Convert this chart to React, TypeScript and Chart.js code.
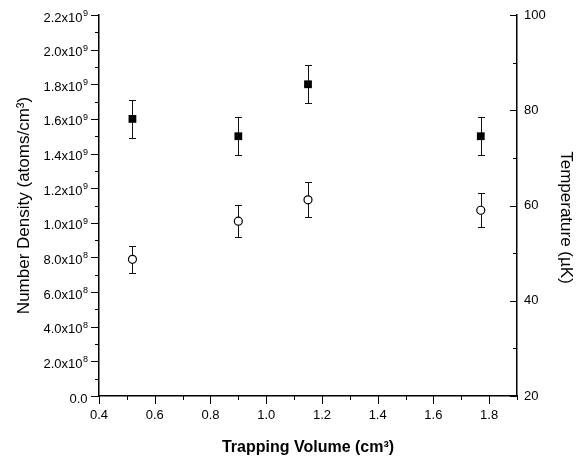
import React, { useEffect, useRef } from "react";
import { Chart, registerables } from "chart.js";

Chart.register(...registerables);

// ---- data ----
const volumes = [0.52, 0.9, 1.15, 1.77];
const density = [1.6e9, 1.5e9, 1.8e9, 1.5e9];
const densityErr = [0.11e9, 0.11e9, 0.11e9, 0.11e9];
const temperature = [48.7, 56.7, 61.2, 59.0];
const temperatureErr = [2.9, 3.4, 3.7, 3.6];

const xMajorTicks = [0.4, 0.6, 0.8, 1.0, 1.2, 1.4, 1.6, 1.8];
const xMinorTicks = [0.5, 0.7, 0.9, 1.1, 1.3, 1.5, 1.7, 1.9];
const densityMajorTicks = [0, 0.2e9, 0.4e9, 0.6e9, 0.8e9, 1.0e9, 1.2e9, 1.4e9, 1.6e9, 1.8e9, 2.0e9, 2.2e9];
const densityTickMantissa = ["0.0", "2.0x10", "4.0x10", "6.0x10", "8.0x10", "1.0x10", "1.2x10", "1.4x10", "1.6x10", "1.8x10", "2.0x10", "2.2x10"];
const densityTickExp = ["", "8", "8", "8", "8", "9", "9", "9", "9", "9", "9", "9"];
const densityMinorTicks = [0.1e9, 0.3e9, 0.5e9, 0.7e9, 0.9e9, 1.1e9, 1.3e9, 1.5e9, 1.7e9, 1.9e9, 2.1e9];
const tempMajorTicks = [20, 40, 60, 80, 100];
const tempMinorTicks = [30, 50, 70, 90];

const xTitle = "Trapping Volume (cm\u00B3)";
const yTitle = "Number Density (atoms/cm\u00B3)";
const y1Title = "Temperature (\u00B5K)";

const FONT = "'Liberation Sans', Arial, Helvetica, sans-serif";

const decorPlugin = {
  id: "decor",
  beforeDatasetsDraw(chart: any) {
    const ctx = chart.ctx;
    const xs = chart.scales.x;
    const ys = chart.scales.y;
    const y1s = chart.scales.y1;
    ctx.save();
    ctx.strokeStyle = "#111";
    ctx.lineWidth = 1;
    const drawBar = (xv: number, v: number, e: number, sc: any) => {
      const px = Math.round(xs.getPixelForValue(xv)) + 0.5;
      const top = Math.round(sc.getPixelForValue(v + e)) + 0.5;
      const bot = Math.round(sc.getPixelForValue(v - e)) + 0.5;
      ctx.beginPath();
      ctx.moveTo(px, top);
      ctx.lineTo(px, bot);
      ctx.moveTo(px - 3.5, top);
      ctx.lineTo(px + 3.5, top);
      ctx.moveTo(px - 3.5, bot);
      ctx.lineTo(px + 3.5, bot);
      ctx.stroke();
    };
    volumes.forEach((xv, i) => drawBar(xv, density[i], densityErr[i], ys));
    volumes.forEach((xv, i) => drawBar(xv, temperature[i], temperatureErr[i], y1s));
    ctx.restore();
  },
  afterDraw(chart: any) {
    const ctx = chart.ctx;
    const xs = chart.scales.x;
    const ys = chart.scales.y;
    const y1s = chart.scales.y1;
    const area = chart.chartArea;
    ctx.save();
    ctx.strokeStyle = "#000";
    ctx.lineWidth = 1;
    ctx.beginPath();
    xMajorTicks.forEach((v) => {
      const px = Math.round(xs.getPixelForValue(v)) + 0.5;
      ctx.moveTo(px, area.bottom);
      ctx.lineTo(px, area.bottom + 8);
    });
    xMinorTicks.forEach((v) => {
      const px = Math.round(xs.getPixelForValue(v)) + 0.5;
      ctx.moveTo(px, area.bottom);
      ctx.lineTo(px, area.bottom + 4);
    });
    densityMajorTicks.forEach((v) => {
      const py = Math.round(ys.getPixelForValue(v)) + 0.5;
      ctx.moveTo(area.left, py);
      ctx.lineTo(area.left - 8, py);
    });
    densityMinorTicks.forEach((v) => {
      const py = Math.round(ys.getPixelForValue(v)) + 0.5;
      ctx.moveTo(area.left, py);
      ctx.lineTo(area.left - 4, py);
    });
    tempMajorTicks.forEach((v) => {
      const py = Math.round(y1s.getPixelForValue(v)) + 0.5;
      ctx.moveTo(area.right, py);
      ctx.lineTo(area.right - 7, py);
    });
    tempMinorTicks.forEach((v) => {
      const py = Math.round(y1s.getPixelForValue(v)) + 0.5;
      ctx.moveTo(area.right, py);
      ctx.lineTo(area.right - 4, py);
    });
    ctx.stroke();

    ctx.fillStyle = "#000";
    ctx.textBaseline = "alphabetic";
    densityMajorTicks.forEach((v, i) => {
      const py = ys.getPixelForValue(v);
      const right = area.left - 11;
      const exp = densityTickExp[i];
      ctx.font = `9px ${FONT}`;
      const ew = exp ? ctx.measureText(exp).width : 0;
      if (exp) {
        ctx.textAlign = "left";
        ctx.fillText(exp, right - ew, py + 1);
      }
      ctx.font = `13px ${FONT}`;
      ctx.textAlign = "right";
      ctx.fillText(densityTickMantissa[i], right - ew - 0.5, py + 6.5);
    });

    ctx.textAlign = "center";
    ctx.textBaseline = "middle";
    ctx.font = `17px ${FONT}`;
    ctx.save();
    ctx.translate(24, (area.top + area.bottom) / 2);
    ctx.rotate(-Math.PI / 2);
    ctx.fillText(yTitle, 0, 0);
    ctx.restore();

    ctx.font = `17px ${FONT}`;
    ctx.save();
    ctx.translate(566, (area.top + area.bottom) / 2 + 12);
    ctx.rotate(Math.PI / 2);
    ctx.fillText(y1Title, 0, 0);
    ctx.restore();

    ctx.font = `bold 16px ${FONT}`;
    ctx.textBaseline = "alphabetic";
    ctx.fillText(xTitle, (area.left + area.right) / 2, 452);
    ctx.restore();
  },
};

export default function App() {
  const ref = useRef<HTMLCanvasElement | null>(null);
  useEffect(() => {
    if (!ref.current) return;
    const chart = new Chart(ref.current, {
      type: "scatter",
      data: {
        datasets: [
          {
            label: "Number Density",
            data: volumes.map((x, i) => ({ x, y: density[i] })),
            yAxisID: "y",
            pointStyle: "rect",
            pointRadius: 5.5,
            backgroundColor: "#000",
            borderColor: "#000",
            borderWidth: 0,
            showLine: false,
          },
          {
            label: "Temperature",
            data: volumes.map((x, i) => ({ x, y: temperature[i] })),
            yAxisID: "y1",
            pointStyle: "circle",
            pointRadius: 4,
            backgroundColor: "#fff",
            borderColor: "#000",
            borderWidth: 1.2,
            showLine: false,
          },
        ],
      },
      options: {
        responsive: false,
        animation: false,
        events: [],
        layout: { padding: { top: 15, left: 0, right: 0, bottom: 0 } },
        plugins: { legend: { display: false }, tooltip: { enabled: false } },
        scales: {
          x: {
            type: "linear",
            min: 0.4,
            max: 1.9,
            afterBuildTicks: (s: any) => {
              s.ticks = xMajorTicks.map((v) => ({ value: v }));
            },
            afterFit: (s: any) => {
              s.height = 64;
            },
            ticks: {
              callback: (v: any) => Number(v).toFixed(1),
              font: { size: 13, family: FONT },
              color: "#000",
              padding: 12,
              maxRotation: 0,
              autoSkip: false,
            },
            grid: { display: false, drawTicks: false },
            border: { display: true, color: "#000", width: 1.5 },
          },
          y: {
            type: "linear",
            position: "left",
            min: 0,
            max: 2.2e9,
            afterBuildTicks: (s: any) => {
              s.ticks = densityMajorTicks.map((v) => ({ value: v }));
            },
            afterFit: (s: any) => {
              s.width = 99;
            },
            ticks: { display: false },
            grid: { display: false, drawTicks: false },
            border: { display: true, color: "#000", width: 1.5 },
          },
          y1: {
            type: "linear",
            position: "right",
            min: 20,
            max: 100,
            afterBuildTicks: (s: any) => {
              s.ticks = tempMajorTicks.map((v) => ({ value: v }));
            },
            afterFit: (s: any) => {
              s.width = 68;
            },
            ticks: {
              callback: (v: any) => String(v),
              font: { size: 13, family: FONT },
              color: "#000",
              padding: 7,
              autoSkip: false,
            },
            grid: { display: false, drawTicks: false },
            border: { display: true, color: "#000", width: 1.5 },
          },
        },
      },
      plugins: [decorPlugin],
    } as any);
    return () => chart.destroy();
  }, []);
  return (
    <div style={{ position: "fixed", left: 0, top: 0, width: 585, height: 460, background: "#fff" }}>
      <canvas ref={ref} width={585} height={460} style={{ display: "block" }} />
    </div>
  );
}
